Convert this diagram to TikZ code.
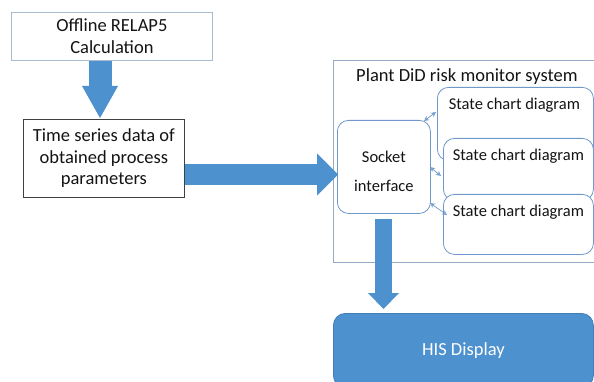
\documentclass[tikz,border=0pt]{standalone}
\usepackage{fontspec}
\setmainfont{Carlito}
\usetikzlibrary{arrows.meta,calc}

\definecolor{flowblue}{RGB}{77,145,207}
\definecolor{flowedge}{RGB}{66,126,186}
\definecolor{paleedge}{RGB}{168,188,208}
\definecolor{frameedge}{RGB}{150,170,196}
\definecolor{chartedge}{RGB}{112,152,202}
\definecolor{textgray}{RGB}{20,20,20}

\tikzset{
  x=1pt, y=-1pt,
  box/.style={draw, line width=0.8pt, fill=white, inner sep=0pt, align=center,
    anchor=north west, text=textgray},
  roundbox/.style={box, draw=chartedge, rounded corners=11pt},
  bigfont/.style={font=\fontsize{18.5}{21.5}\selectfont},
  chartfont/.style={font=\fontsize{16.5}{20}\selectfont},
  blockarrow/.style={flowblue, line cap=butt},
  thinlink/.style={chartedge, line width=0.7pt,
    {Stealth[open,length=5pt,width=5pt]}-{Stealth[open,length=5pt,width=5pt]}},
}

\begin{document}
\begin{tikzpicture}
  \useasboundingbox (0,0) rectangle (594,382);
  \clip (0,0) rectangle (594,382);
  \fill[white] (0,0) rectangle (594,382);

  % left-hand column
  \node[box, bigfont, draw=paleedge, minimum width=201pt, minimum height=48pt]
    (relap) at (11,12) {Offline RELAP5\\Calculation};
  \node[box, bigfont, draw=black!75, minimum width=161pt, minimum height=78pt]
    (series) at (23,119) {Time series data of\\obtained process\\parameters};

  % monitor system frame
  \node[box, draw=frameedge, minimum width=267pt, minimum height=202pt,
    label={[bigfont, text=textgray, anchor=north, yshift=-5pt]north:Plant DiD risk monitor system}]
    (system) at (333,60) {};

  \node[roundbox, minimum width=93pt, minimum height=93pt,
    label={[font=\fontsize{16.5}{28.5}\selectfont, align=center, text=textgray, yshift=-4.5pt]center:Socket\\interface}]
    (socket) at (337,120) {};

  % stacked state chart cards
  \node[roundbox, minimum width=156pt, minimum height=73pt,
    label={[chartfont, text=textgray, anchor=north, yshift=-8pt, xshift=-1pt]north:State chart diagram}]
    (chartA) at (437,87) {};
  \node[roundbox, minimum width=150pt, minimum height=62pt,
    label={[chartfont, text=textgray, anchor=north, yshift=-8pt]north:State chart diagram}]
    (chartB) at (443,138) {};
  \node[roundbox, minimum width=150pt, minimum height=60pt,
    label={[chartfont, text=textgray, anchor=north, yshift=-8pt]north:State chart diagram}]
    (chartC) at (443,194) {};

  % display
  \node[box, bigfont, fill=flowblue, draw=flowedge, rounded corners=12pt, text=white,
    minimum width=260pt, minimum height=74pt]
    (his) at (333,313) {HIS Display};

  % block arrows
  \draw[blockarrow, line width=23pt, -{Triangle[width=36pt,length=32pt,line width=0pt]}]
    ($(relap.south west)+(89,0)$) -- ($(series.north west)+(77,-1)$);
  \draw[blockarrow, line width=21pt, -{Triangle[width=42pt,length=21pt,line width=0pt]}]
    ($(series.north east)+(0,55.5)$) -- ($(socket.north west)+(1,54.5)$);
  \draw[blockarrow, line width=17pt, -{Triangle[width=31pt,length=16pt,line width=0pt]}]
    ($(socket.south west)+(46.5,5)$) -- ($(his.north west)+(50.5,-4)$);

  % socket links to the state charts
  \coordinate (sA) at (424,121);
  \coordinate (cA) at (436,112);
  \coordinate (sB) at (430,167);
  \coordinate (cB) at (441,176);
  \coordinate (sC) at (430,203);
  \coordinate (cC) at (447,215);
  \draw[thinlink] (sA) -- (cA);
  \draw[thinlink] (sB) -- (cB);
  \draw[thinlink] (sC) -- (cC);
\end{tikzpicture}
\end{document}
